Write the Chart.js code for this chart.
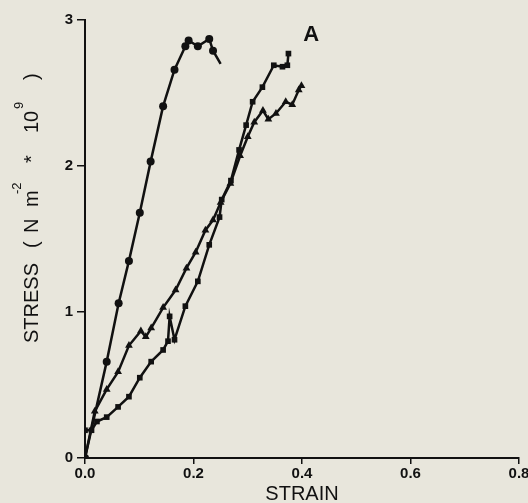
<!DOCTYPE html>
<html>
<head>
<meta charset="utf-8">
<script src="https://cdn.jsdelivr.net/npm/chart.js@4"></script>
<style>
  html, body { margin: 0; padding: 0; background: #e8e6dc; }
  #wrap { width: 528px; height: 503px; }
</style>
</head>
<body>
<div id="wrap"><canvas id="stressChart"></canvas></div>
<script>
// steep curve, round markers
const strainCircle = [0, 0.04, 0.062, 0.081, 0.101, 0.121, 0.144, 0.165, 0.185, 0.191, 0.208, 0.229, 0.236, 0.25];
const stressCircle = [0, 0.66, 1.06, 1.35, 1.68, 2.03, 2.41, 2.66, 2.82, 2.86, 2.82, 2.87, 2.79, 2.70];

// middle curve, triangle markers
const strainTri = [0, 0.018, 0.04, 0.061, 0.081, 0.103, 0.112, 0.122, 0.144, 0.167, 0.187, 0.204, 0.222, 0.236, 0.25, 0.268, 0.286, 0.3, 0.312, 0.328, 0.338, 0.352, 0.37, 0.382, 0.394, 0.399];
const stressTri = [0, 0.32, 0.47, 0.59, 0.77, 0.87, 0.83, 0.89, 1.03, 1.15, 1.30, 1.41, 1.56, 1.63, 1.75, 1.88, 2.07, 2.20, 2.30, 2.38, 2.32, 2.36, 2.44, 2.42, 2.52, 2.55];

// lower curve, square markers
const strainSq = [0, 0.012, 0.022, 0.04, 0.061, 0.081, 0.101, 0.122, 0.144, 0.153, 0.156, 0.165, 0.185, 0.208, 0.229, 0.248, 0.252, 0.269, 0.284, 0.297, 0.309, 0.327, 0.348, 0.364, 0.373, 0.375];
const stressSq = [0.19, 0.19, 0.25, 0.28, 0.35, 0.42, 0.55, 0.66, 0.74, 0.80, 0.97, 0.81, 1.04, 1.21, 1.46, 1.65, 1.77, 1.90, 2.11, 2.28, 2.44, 2.54, 2.69, 2.68, 2.69, 2.77];

const xTicks = [0, 0.2, 0.4, 0.6, 0.8];
const yTicks = [0, 1, 2, 3];
const panelLabel = 'A';

const ink = '#111';
const bg = '#e8e6dc';
const fontFamily = '"Liberation Sans", Arial, sans-serif';

function toPoints(xs, ys) {
  return xs.map((x, i) => ({x: x, y: ys[i]}));
}

function makeSet(xs, ys, style, size, markLast) {
  return {
    data: toPoints(xs, ys),
    borderColor: ink,
    backgroundColor: ink,
    borderWidth: 2.5,
    pointStyle: style,
    pointRadius: (ctx) => (!markLast && ctx.dataIndex === xs.length - 1) ? 0 : size,
    pointBorderWidth: 0,
    tension: 0,
    fill: false
  };
}

const background = {
  id: 'background',
  beforeDraw(chart) {
    const c = chart.ctx;
    c.save();
    c.fillStyle = bg;
    c.fillRect(0, 0, chart.width, chart.height);
    c.restore();
  }
};

// y title with superscripts, drawn rotated
const yTitle = {
  id: 'yTitle',
  afterDraw(chart) {
    const c = chart.ctx;
    const big = '20px ' + fontFamily;
    const small = '13px ' + fontFamily;
    const pieces = [
      ['STRESS', 0, 0, big],
      ['(', 95, 0, big],
      ['N', 110, 0, big],
      ['m', 136, 0, big],
      ['-2', 149, -17, small],
      ['*', 180, 0, big],
      ['10', 210, 0, big],
      ['9', 234, -15, small],
      [')', 263, 0, big]
    ];
    c.save();
    c.translate(38, 343);
    c.rotate(-Math.PI / 2);
    c.fillStyle = ink;
    c.textAlign = 'left';
    c.textBaseline = 'alphabetic';
    for (const p of pieces) {
      c.font = p[3];
      c.fillText(p[0], p[1], p[2]);
    }
    c.restore();
  }
};

const panelTag = {
  id: 'panelTag',
  afterDraw(chart) {
    const c = chart.ctx;
    const xs = chart.scales.x, ys = chart.scales.y;
    c.save();
    c.fillStyle = ink;
    c.font = 'bold 22px ' + fontFamily;
    c.textAlign = 'center';
    c.textBaseline = 'middle';
    c.fillText(panelLabel, xs.getPixelForValue(0.417), ys.getPixelForValue(2.9));
    c.restore();
  }
};

const tickFont = {family: fontFamily, size: 15, weight: 'bold'};

new Chart(document.getElementById('stressChart'), {
  type: 'line',
  data: {
    datasets: [
      makeSet(strainCircle, stressCircle, 'circle', 4, false),
      makeSet(strainTri, stressTri, 'triangle', 4.5, true),
      makeSet(strainSq, stressSq, 'rect', 4, true)
    ]
  },
  options: {
    responsive: true,
    maintainAspectRatio: false,
    animation: false,
    layout: {padding: {top: 20, right: 9, bottom: 0, left: 0}},
    plugins: {legend: {display: false}, tooltip: {enabled: false}},
    scales: {
      x: {
        type: 'linear',
        min: 0,
        max: 0.8,
        afterBuildTicks: (scale) => { scale.ticks = xTicks.map(v => ({value: v})); },
        afterFit: (scale) => { scale.height = 45; scale.paddingLeft = 0; scale.paddingRight = 0; },
        border: {display: true, color: ink, width: 2},
        grid: {drawOnChartArea: false, drawTicks: true, tickLength: 6, color: ink, lineWidth: 1.5},
        ticks: {
          color: ink, font: tickFont, padding: 1, maxRotation: 0, autoSkip: false,
          callback: (v) => Number(v).toFixed(1)
        },
        title: {
          display: true, text: 'STRAIN', color: ink,
          font: {family: fontFamily, size: 20, lineHeight: 0.85},
          padding: 0
        }
      },
      y: {
        type: 'linear',
        min: 0,
        max: 3,
        afterBuildTicks: (scale) => { scale.ticks = yTicks.map(v => ({value: v})); },
        afterFit: (scale) => { scale.width = 85; scale.paddingTop = 0; scale.paddingBottom = 0; },
        border: {display: true, color: ink, width: 2},
        grid: {drawOnChartArea: false, drawTicks: true, tickLength: 8, color: ink, lineWidth: 1.5},
        ticks: {color: ink, font: tickFont, padding: 4, callback: (v) => String(v)}
      }
    }
  },
  plugins: [background, yTitle, panelTag]
});
</script>
</body>
</html>
